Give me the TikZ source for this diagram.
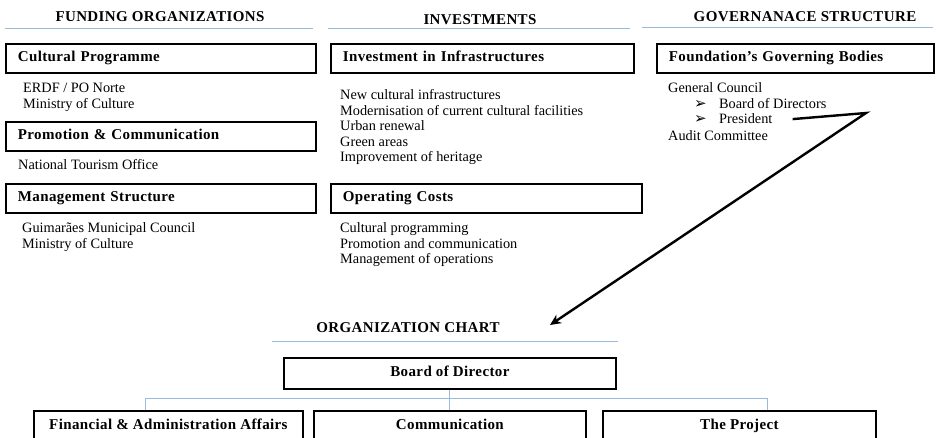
\documentclass[tikz,border=0pt]{standalone}
\usepackage{fontspec}
\setmainfont{Liberation Serif}
\newfontfamily\symfont{DejaVu Sans}
\newfontfamily\boldserif[LetterSpace=2.5]{Liberation Serif Bold}
\usepackage{tikz}
\usetikzlibrary{arrows.meta, positioning, calc}

\definecolor{ruleblue}{RGB}{155,185,218}
\newcommand{\bodyfont}{\fontsize{14.3}{15.5}\selectfont}
\newcommand{\headfont}{\boldserif\fontsize{15}{16}\selectfont}
\newcommand{\pointer}{{\symfont\fontsize{15}{15}\selectfont ➢}}

\begin{document}
\begin{tikzpicture}[
    x=1pt, y=-1pt,
    header/.style={font=\headfont, inner sep=0pt},
    rule/.style={ruleblue, line width=1pt},
    titlebox/.style={draw, line width=1.8pt, anchor=north west, minimum height=29pt, inner xsep=12pt, inner ysep=0pt, text width=#1, text height=10pt, text depth=3pt, align=left, font=\headfont},
    orgbox/.style={draw, line width=1.8pt, anchor=north west, minimum height=31pt, minimum width=#1, text height=10pt, text depth=3pt, font=\headfont},
    item/.style={font=\bodyfont, anchor=base west, inner sep=0pt},
    link/.style={ruleblue, line width=1pt},
    bigarrow/.style={-{Stealth[length=11pt, width=10pt]}, line width=2.4pt}
]
\clip (0,0) rectangle (937,438);

% Column headers
\node[header] (funding) at (160,17) {FUNDING ORGANIZATIONS};
\node[header] (invest) at (480,20) {INVESTMENTS};
\node[header] (govern) at (805,17) {GOVERNANACE STRUCTURE};
\draw[rule] (5,29) -- (313,29);
\draw[rule] (328,29) -- (630,29);
\draw[rule] (642,28) -- (933,28);

% Funding organizations
\node[titlebox=286pt] (cultural) at (5,43) {Cultural Programme};
\node[item] (erdf) at (23,93) {ERDF / PO Norte};
\node[item] (ministry1) at (23,108.5) {Ministry of Culture};
\node[titlebox=286pt] (promotion) at (5,121) {Promotion \& Communication};
\node[item] (tourism) at (18,170) {National Tourism Office};
\node[titlebox=286pt] (management) at (5,183) {Management Structure};
\node[item] (council) at (22,233) {Guimarães Municipal Council};
\node[item] (ministry2) at (22,248.5) {Ministry of Culture};

% Investments
\node[titlebox=279pt] (infra) at (330,43) {Investment in Infrastructures};
\node[item] (newinfra) at (340,100) {New cultural infrastructures};
\node[item] (modern) at (340,115.5) {Modernisation of current cultural facilities};
\node[item] (urban) at (340,131) {Urban renewal};
\node[item] (green) at (340,146.5) {Green areas};
\node[item] (heritage) at (340,162) {Improvement of heritage};
\node[titlebox=287pt] (operating) at (330,183) {Operating Costs};
\node[item] (programming) at (340,233) {Cultural programming};
\node[item] (promcomm) at (340,248.5) {Promotion and communication};
\node[item] (operations) at (340,264) {Management of operations};

% Governance structure
\node[titlebox=253pt] (bodies) at (656,43) {Foundation’s Governing Bodies};
\node[item] (general) at (668,93) {General Council};
\node[item] (bullet1) at (694,108.5) {\pointer};
\node[item] (directors) at (719,108.5) {Board of Directors};
\node[item] (bullet2) at (694,124) {\pointer};
\node[item] (president) at (719,124) {President};
\node[item] (audit) at (668,141) {Audit Committee};

% Organization chart
\node[header] (orgchart) at (408,328) {ORGANIZATION CHART};
\draw[rule] (272,341) -- (618,341);
\node[orgbox=332pt] (board) at (283,357) {Board of Director};
\node[orgbox=269pt] (finance) at (33,410) {Financial \& Administration Affairs};
\node[orgbox=272pt] (comm) at (313,410) {Communication};
\node[orgbox=273pt] (project) at (602,410) {The Project};

\coordinate (bus west) at (145,398);
\coordinate (bus east) at (767,398);
\draw[link] (board.south) -- (board.south |- bus west);
\draw[link] (bus west) -- (bus east);
\draw[link] (bus west) -- (bus west |- finance.north);
\draw[link] (board.south |- bus west) -- (comm.north);
\draw[link] (bus east) -- (bus east |- project.north);

% President -> organization chart
\coordinate (bend) at (866,113);
\coordinate (tip) at (550,325);
\draw[bigarrow] ([xshift=20pt]president.east) -- (bend) -- (tip);

\end{tikzpicture}
\end{document}
